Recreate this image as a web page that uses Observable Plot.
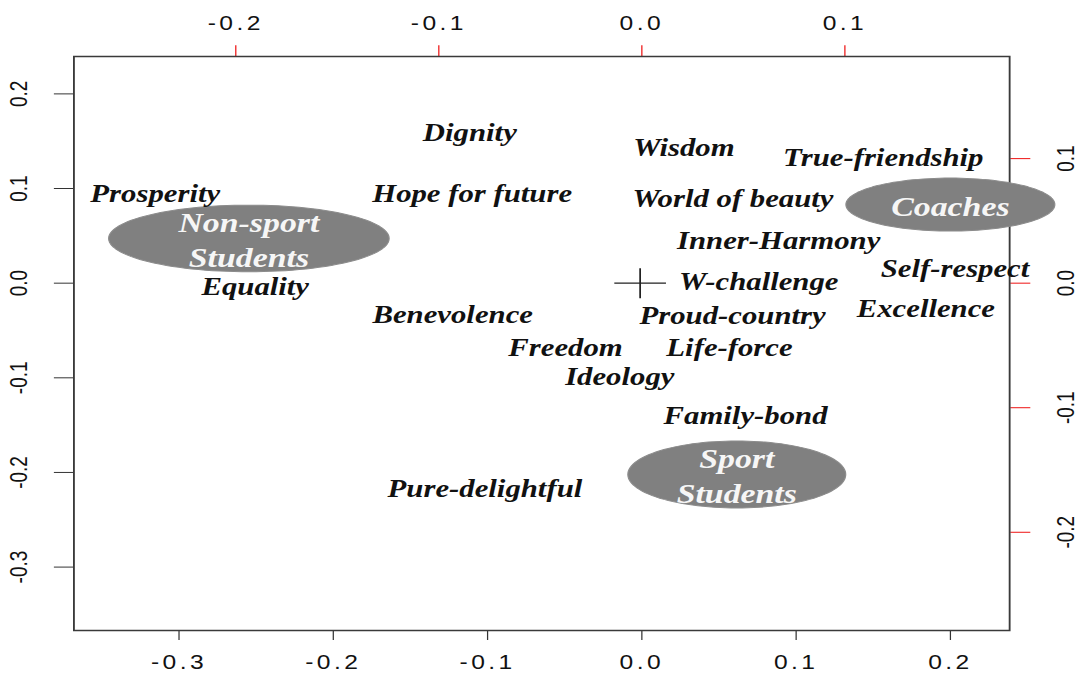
<!DOCTYPE html>
<html>
<head>
<meta charset="utf-8">
<script src="https://cdn.jsdelivr.net/npm/d3@7"></script>
<script src="https://cdn.jsdelivr.net/npm/@observablehq/plot@0.6"></script>
<style>
  html, body { margin: 0; padding: 0; background: #fff; }
  #chart { width: 1080px; height: 674px; overflow: hidden; }
  g[aria-label="x-axis tick label"] text { letter-spacing: 2.8px; }
</style>
</head>
<body>
<div id="chart"></div>
<script>
// ---- data (primary axes: bottom / left) ----
const labels = ["Dignity", "Wisdom", "True-friendship", "Prosperity", "Hope for future",
  "World of beauty", "Inner-Harmony", "W-challenge", "Self-respect", "Equality",
  "Benevolence", "Excellence", "Proud-country", "Freedom", "Life-force", "Ideology",
  "Family-bond", "Pure-delightful"];
const labelX = [-0.1104, 0.0284, 0.1576, -0.3143, -0.1089, 0.0602, 0.0898, 0.0769, 0.2041,
  -0.2495, -0.1215, 0.1852, 0.0599, -0.0484, 0.0579, -0.0132, 0.0683, -0.1006];
const labelY = [0.1588, 0.1429, 0.1324, 0.0939, 0.0939, 0.0893, 0.0448, 0.0008, 0.0146,
  -0.0044, -0.0334, -0.0276, -0.0350, -0.0685, -0.0688, -0.0994, -0.1403, -0.2180];

// ---- groups (secondary axes: top / right, red ticks) ----
const groups = ["Non-sport\nStudents", "Coaches", "Sport\nStudents"];
const groupX2 = [-0.1927, 0.1528, 0.0476];
const groupY2 = [0.0359, 0.0631, -0.1536];

// ---- ticks ----
const xTicks = [-0.3, -0.2, -0.1, 0, 0.1, 0.2];
const xTickLabels = ["-0.3", "-0.2", "-0.1", "0.0", "0.1", "0.2"];
const yTicks = [0.2, 0.1, 0, -0.1, -0.2, -0.3];
const yTickLabels = ["0.2", "0.1", "0.0", "-0.1", "-0.2", "-0.3"];
const x2Ticks = [-0.2, -0.1, 0, 0.1];
const x2TickLabels = ["-0.2", "-0.1", "0.0", "0.1"];
const y2Ticks = [0.1, 0, -0.1, -0.2];
const y2TickLabels = ["0.1", "0.0", "-0.1", "-0.2"];

const secondaryRatio = 1.316;           // primary units per secondary unit
const limits = [-0.367, 0.2395];        // same limits on both axes

// ---- derived tables ----
const points = labels.map((t, i) => ({label: t, x: labelX[i], y: labelY[i]}));
const groupPts = groups.map((g, i) => ({label: g, x: groupX2[i] * secondaryRatio, y: groupY2[i] * secondaryRatio}));
const x2Pos = x2Ticks.map(v => v * secondaryRatio);
const y2Pos = y2Ticks.map(v => v * secondaryRatio);
const fmt = (pos, lab) => d => lab[pos.findIndex(p => Math.abs(p - d) < 1e-9)];

// ellipse backgrounds (shape style, radii in primary units)
const ellipseShape = [{rx: 0.0909, ry: 0.0352}, {rx: 0.0677, ry: 0.0280}, {rx: 0.0706, ry: 0.0354}];
const ellipsePts = [];
groupPts.forEach((g, gi) => {
  const {rx, ry} = ellipseShape[gi];
  for (let k = 0; k <= 120; ++k) {
    const a = (2 * Math.PI * k) / 120;
    ellipsePts.push({g: gi, x: g.x + rx * Math.cos(a), y: g.y + ry * Math.sin(a)});
  }
});

const crossSymbol = {
  draw(ctx) { ctx.moveTo(-21, 0); ctx.lineTo(21, 0); ctx.moveTo(0, -15); ctx.lineTo(0, 15); }
};

const W = 878, H = 674, SCREEN_W = 1080;

const svg = Plot.plot({
  width: W,
  height: H,
  marginLeft: 59.6,
  marginRight: 57.7,
  marginTop: 56,
  marginBottom: 44,
  x: {domain: limits, label: null},
  y: {domain: limits, label: null},
  style: {fontFamily: "'Liberation Sans', Arial, sans-serif", fontSize: "20px", color: "#111", background: "#fff"},
  marks: [
    Plot.axisX({anchor: "bottom", ticks: xTicks, tickFormat: fmt(xTicks, xTickLabels), tickSize: 10, tickPadding: 14.3,
      stroke: "#333", fill: "#111", fontSize: 20, dx: 1.4, label: null}),
    Plot.axisX({anchor: "top", ticks: x2Pos, tickFormat: fmt(x2Pos, x2TickLabels), tickSize: 11.7, tickPadding: 15,
      stroke: "#ee1111", fill: "#111", fontSize: 20, dx: 1.4, label: null}),
    Plot.axisY({anchor: "left", ticks: yTicks, tickFormat: fmt(yTicks, yTickLabels), tickSize: 15.8, tickPadding: 22.1,
      tickRotate: -90, stroke: "#333", fill: "#111", fontSize: 19, label: null}),
    Plot.axisY({anchor: "right", ticks: y2Pos, tickFormat: fmt(y2Pos, y2TickLabels), tickSize: 16.3, tickPadding: 36.2,
      tickRotate: -90, stroke: "#ee1111", fill: "#111", fontSize: 19, label: null}),
    Plot.frame({stroke: "#3a3a3a", strokeWidth: 1.5}),
    Plot.dot([{x: 0, y: 0}], {x: "x", y: "y", symbol: crossSymbol, fill: "none", stroke: "#222", strokeWidth: 1.4}),
    Plot.line(ellipsePts, {x: "x", y: "y", z: "g", fill: "#808080", stroke: "#8c8c8c", strokeWidth: 1, curve: "linear"}),
    Plot.text(groupPts, {x: "x", y: "y", text: "label", fontFamily: "'Liberation Serif', 'Times New Roman', serif",
      fontWeight: "bold", fontStyle: "italic", fontSize: 27.5, lineHeight: 1.25, fill: "#f6f6f6",
      textAnchor: "middle", lineAnchor: "middle"}),
    Plot.text(points, {x: "x", y: "y", text: "label", fontFamily: "'Liberation Serif', 'Times New Roman', serif",
      fontWeight: "bold", fontStyle: "italic", fontSize: 25, fill: "#111",
      textAnchor: "middle", lineAnchor: "middle"})
  ]
});

// the reference picture is stretched horizontally; stretch the whole drawing to the window width
svg.setAttribute("width", SCREEN_W);
svg.setAttribute("height", H);
svg.setAttribute("preserveAspectRatio", "none");
svg.style.maxWidth = "none";
svg.style.width = SCREEN_W + "px";
svg.style.height = H + "px";
document.getElementById("chart").appendChild(svg);
</script>
</body>
</html>
